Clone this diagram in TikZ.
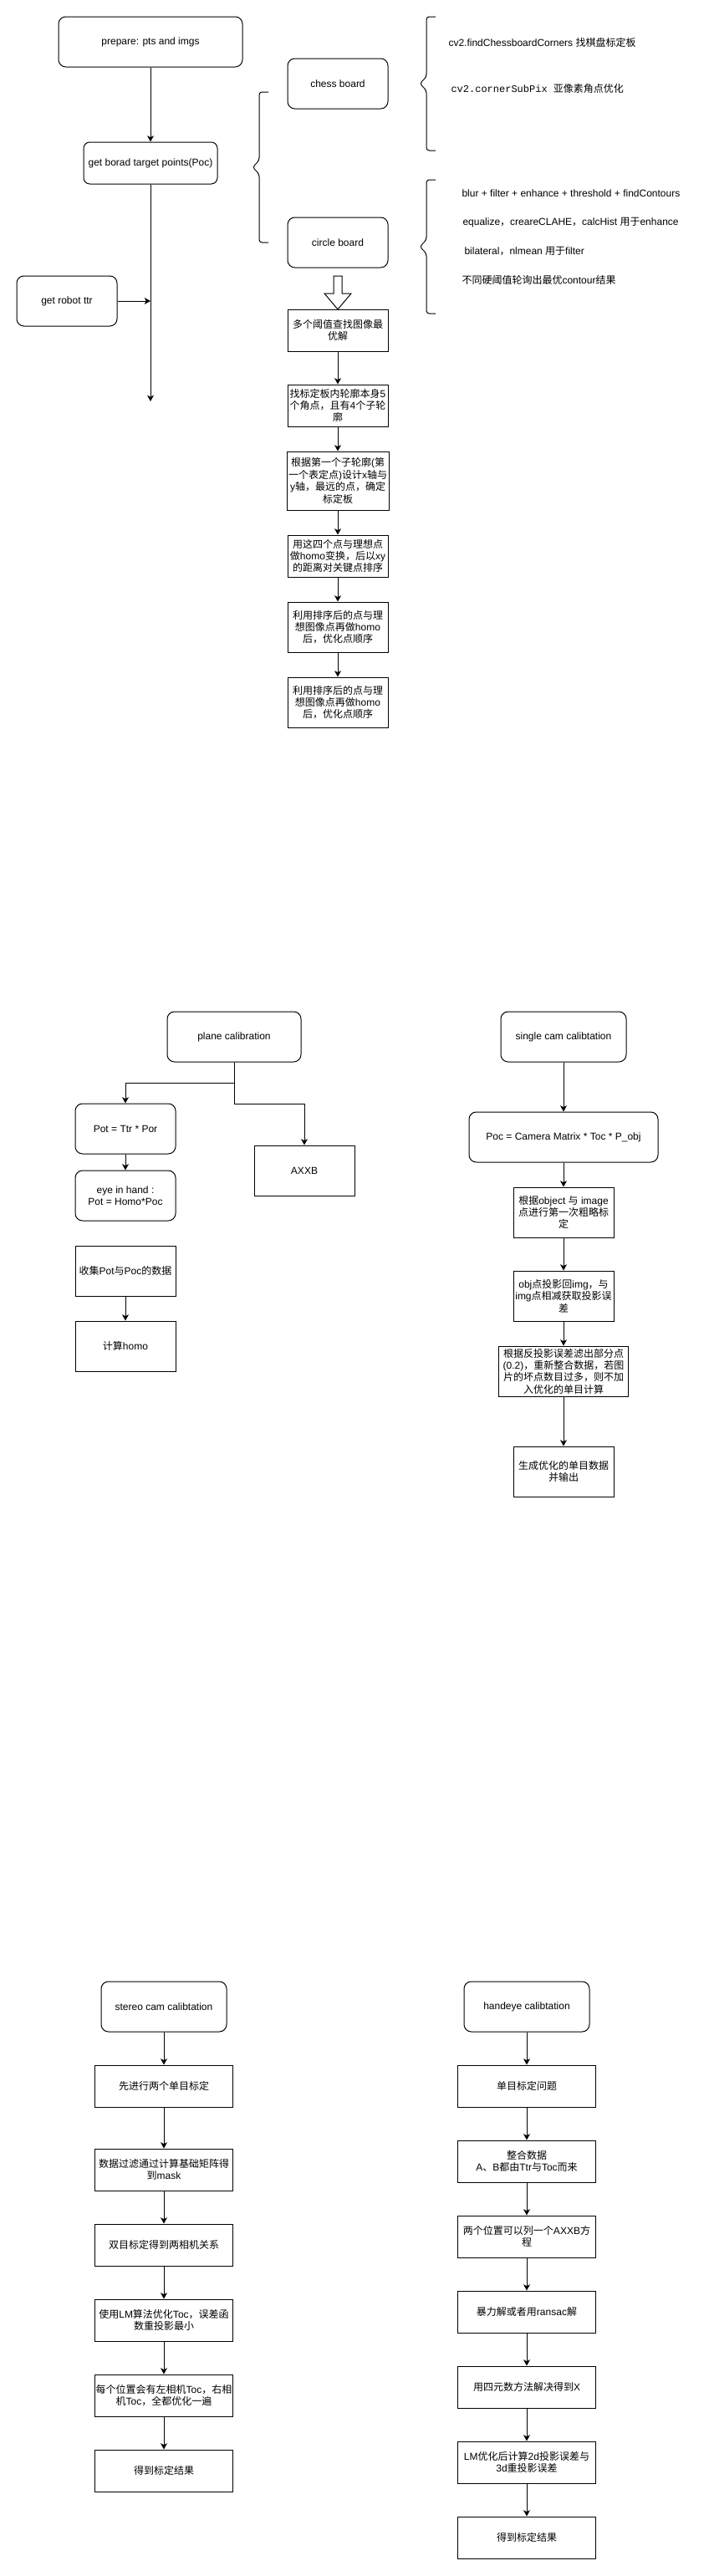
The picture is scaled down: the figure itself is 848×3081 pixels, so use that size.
\documentclass[tikz,border=0pt]{standalone}
\usepackage{fontspec}
\setmainfont{Liberation Sans}
\setmonofont{Liberation Mono}
\newfontfamily\zhfont{Noto Sans CJK SC}
\newfontfamily\enfont{Liberation Sans}
\usetikzlibrary{arrows.meta}

\ifdefined\newXeTeXintercharclass
	\newXeTeXintercharclass\zhclass
\else
	\chardef\zhclass=7
\fi
\makeatletter
\count@="3000
\loop\XeTeXcharclass\count@=\zhclass\ifnum\count@<"303F\advance\count@ 1 \repeat
\count@="4E00
\loop\XeTeXcharclass\count@=\zhclass\ifnum\count@<"9FFF\advance\count@ 1 \repeat
\count@="FF00
\loop\XeTeXcharclass\count@=\zhclass\ifnum\count@<"FFEF\advance\count@ 1 \repeat
\makeatother
\XeTeXinterchartoks 0 \zhclass = {\zhfont}
\XeTeXinterchartoks 4095 \zhclass = {\zhfont}
\XeTeXinterchartoks \zhclass 0 = {\enfont}
\XeTeXinterchartoks \zhclass 4095 = {\enfont}
\XeTeXinterchartokenstate=1

\begin{document}
\begin{tikzpicture}[x=0.75pt,y=-0.75pt,line width=0.75pt,
		font=\fontsize{9pt}{10.8pt}\selectfont,
		>={Stealth[length=5.5pt,width=6pt,inset=1.5pt]},
		rbox/.style={draw,rounded corners=6.5pt,minimum width=90pt,minimum height=45pt,inner sep=0pt,align=center},
		sbox/.style={draw,minimum width=90pt,minimum height=45pt,inner sep=0pt,align=center},
		wbox/.style={sbox,minimum width=123.75pt,minimum height=37.5pt},
		note/.style={anchor=west,inner sep=0pt}]
			\useasboundingbox (0,0) rectangle (848,3081);

			\node[rbox,minimum width=165pt] (prep) at (180,50) {prepare: pts and imgs};
			\node[rbox,minimum width=120pt,minimum height=37.5pt,rounded corners=5.5pt] (board) at (180,195) {get borad target points(Poc)};
			\node[rbox] (robot) at (80,360) {get robot ttr};
			\coordinate (join) at (180,360);
			\coordinate (flowend) at (180,480);

			\path[->,draw] (prep) -- (board);
			\path[->,draw] (board) -- (flowend);
			\path[->,draw] (robot) -- (join);

			\node[rbox] (chess) at (404,100) {chess board};
			\node[rbox] (circ) at (404,290) {circle board};

			\path[draw,rounded corners=2.5pt] (321,110) -- (310,110) -- (310,192) -- (302,200) -- (310,208) -- (310,290) -- (321,290);
			\path[draw,rounded corners=2.5pt] (521,20) -- (510,20) -- (510,92) -- (502,100) -- (510,108) -- (510,180) -- (521,180);
			\path[draw,rounded corners=2.5pt] (521,215) -- (510,215) -- (510,287) -- (502,295) -- (510,303) -- (510,375) -- (521,375);

			\node[note] (findcb) at (536,51) {cv2.findChessboardCorners 找棋盘标定板};
			\node[note,font=\fontsize{9pt}{10.8pt}\selectfont\ttfamily] (subpix) at (539,106) {cv2.cornerSubPix 亚像素角点优化};
			\node[note] (pipe) at (552,231) {blur + filter + enhance + threshold + findContours};
			\node[note] (enh) at (553,266) {equalize，creareCLAHE，calcHist 用于enhance};
			\node[note] (filt) at (555,301) {bilateral，nlmean 用于filter};
			\node[note] (cont) at (552,335) {不同硬阈值轮询出最优contour结果};

			\path[draw] (399,330) -- (409,330) -- (409,351) -- (420,351) -- (404,370) -- (388,351) -- (399,351) -- cycle;

			\node[sbox,minimum height=37.5pt] (thr) at (404,395) {多个阈值查找图像最\\优解};
			\node[sbox,minimum height=37.5pt] (corner) at (404,485) {找标定板内轮廓本身5\\个角点，且有4个子轮\\廓};
			\node[sbox,minimum width=91.5pt,minimum height=52.5pt] (axis) at (404,575) {根据第一个子轮廓(第\\一个表定点)设计x轴与\\y轴，最远的点，确定\\标定板};
			\node[sbox,minimum height=37.5pt] (homo) at (404,665) {用这四个点与理想点\\做homo变换，后以xy\\的距离对关键点排序};
			\node[sbox] (sort) at (404,750) {利用排序后的点与理\\想图像点再做homo\\后，优化点顺序};
			\node[sbox] (resort) at (404,840) {利用排序后的点与理\\想图像点再做homo\\后，优化点顺序};
			\foreach \a/\b in {thr/corner,corner/axis,axis/homo,homo/sort,sort/resort}
				\path[->,draw] (\a) -- (\b);

			\node[rbox,minimum width=120pt] (plane) at (280,1240) {plane calibration};
			\node[rbox] (pot) at (150,1350) {Pot = Ttr * Por};
			\node[rbox] (eye) at (150,1430) {eye in hand :\\Pot = Homo*Poc};
			\node[sbox] (axxb) at (364,1400) {AXXB};
			\node[sbox] (collect) at (150,1520) {收集Pot与Poc的数据};
			\node[sbox] (calc) at (150,1610) {计算homo};

			\path[->,draw] (plane.south) -- ++(0,25) -| (pot.north);
			\path[->,draw] (plane.south) -- ++(0,50) -| (axxb.north);
			\path[->,draw] (pot) -- (eye);
			\path[->,draw] (collect) -- (calc);

			\node[rbox,minimum width=112.5pt] (single) at (674,1240) {single cam calibtation};
			\node[rbox,minimum width=169.5pt] (proj) at (674,1360) {Poc = Camera Matrix * Toc * P\_obj};
			\node[sbox] (rough) at (674,1450) {根据object 与 image\\点进行第一次粗略标\\定};
			\node[sbox] (reproj) at (674,1550) {obj点投影回img，与\\img点相减获取投影误\\差};
			\node[sbox,minimum width=116.25pt] (filter) at (674,1640) {根据反投影误差滤出部分点\\(0.2)，重新整合数据，若图\\片的坏点数目过多，则不加\\入优化的单目计算};
			\node[sbox] (output) at (674,1760) {生成优化的单目数据\\并输出};
			\foreach \a/\b in {single/proj,proj/rough,rough/reproj,reproj/filter,filter/output}
				\path[->,draw] (\a) -- (\b);

			\node[rbox,minimum width=112.5pt] (stereo) at (196,2400) {stereo cam calibtation};
			\node[wbox] (mono) at (196,2495) {先进行两个单目标定};
			\node[wbox] (mask) at (196,2595) {数据过滤通过计算基础矩阵得\\到mask};
			\node[wbox] (rel) at (196,2685) {双目标定得到两相机关系};
			\node[wbox] (lm) at (196,2775) {使用LM算法优化Toc，误差函\\数重投影最小};
			\node[wbox] (pose) at (196,2865) {每个位置会有左相机Toc，右相\\机Toc，全都优化一遍};
			\node[wbox] (sres) at (196,2955) {得到标定结果};
			\foreach \a/\b in {stereo/mono,mono/mask,mask/rel,rel/lm,lm/pose,pose/sres}
				\path[->,draw] (\a) -- (\b);

			\node[rbox,minimum width=112.5pt] (handeye) at (630,2400) {handeye calibtation};
			\node[wbox] (hmono) at (630,2495) {单目标定问题};
			\node[wbox] (merge) at (630,2585) {整合数据\\A、B都由Ttr与Toc而来};
			\node[wbox] (eq) at (630,2675) {两个位置可以列一个AXXB方\\程};
			\node[wbox] (ransac) at (630,2765) {暴力解或者用ransac解};
			\node[wbox] (quat) at (630,2855) {用四元数方法解决得到X};
			\node[wbox] (lmerr) at (630,2945) {LM优化后计算2d投影误差与\\3d重投影误差};
			\node[wbox] (hres) at (630,3035) {得到标定结果};
			\foreach \a/\b in {handeye/hmono,hmono/merge,merge/eq,eq/ransac,ransac/quat,quat/lmerr,lmerr/hres}
				\path[->,draw] (\a) -- (\b);
		\end{tikzpicture}
\end{document}
